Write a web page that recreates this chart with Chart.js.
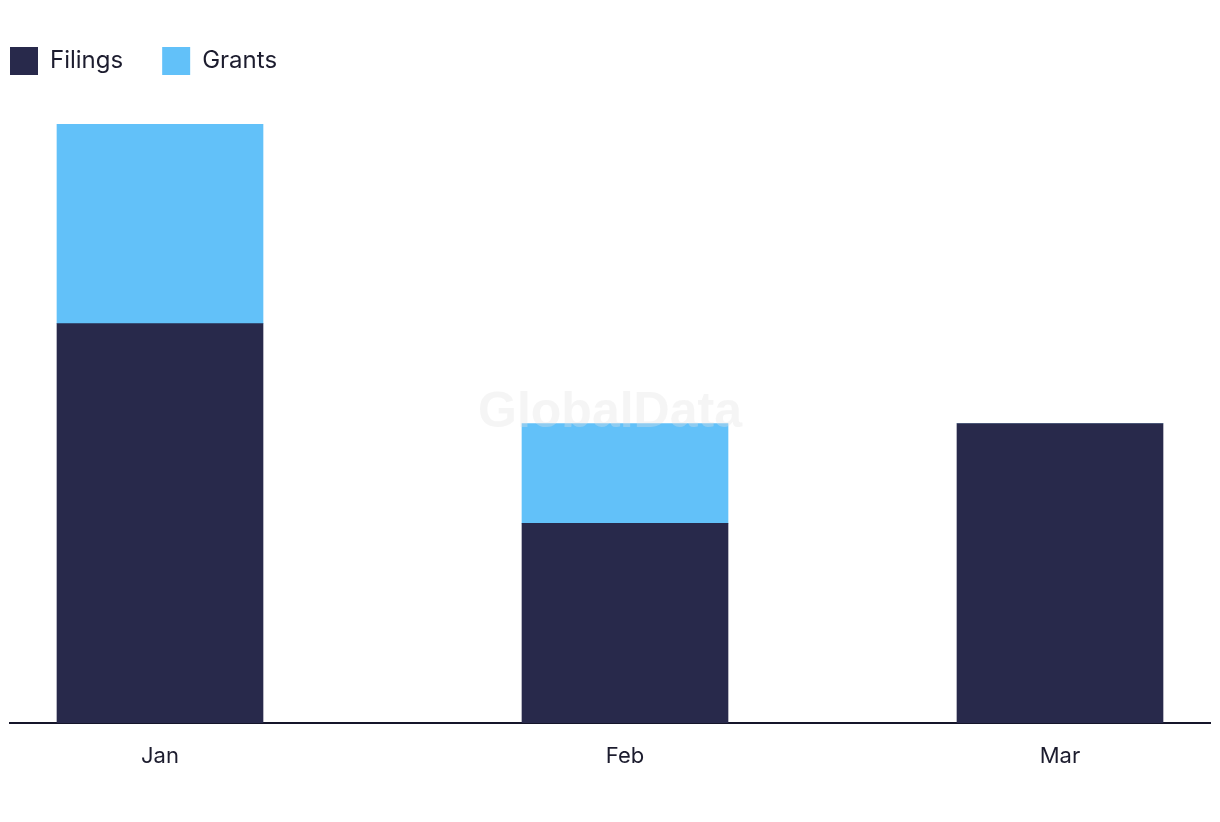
<!DOCTYPE html>
<html>
<head>
<meta charset="utf-8">
<script src="https://cdn.jsdelivr.net/npm/chart.js@4.4.1/dist/chart.umd.min.js"></script>
<style>
  html, body { margin: 0; padding: 0; background: #ffffff; }
  #wrap { width: 1220px; height: 822px; position: relative; }
</style>
</head>
<body>
<div id="wrap"><canvas id="c" width="1220" height="822"></canvas></div>
<script>
// ---- data ----
const months = ['Jan', 'Feb', 'Mar'];
const dayOffsets = [0, 31, 60];       // days since 1 Jan 2024 (month starts)
const filings = [4, 2, 3];
const grants = [2, 1, 0];
const seriesNames = ['Filings', 'Grants'];

const FONT = 'Inter, "Open Sans", sans-serif';
const LEGEND_PAD = 39;

const watermark = {
  id: 'watermark',
  afterDatasetsDraw(chart) {
    const ctx = chart.ctx;
    const a = chart.chartArea;
    ctx.save();
    ctx.font = 'bold 50px "Liberation Sans", Arial, sans-serif';
    ctx.fillStyle = 'rgba(225,225,225,0.35)';
    ctx.textAlign = 'center';
    ctx.textBaseline = 'alphabetic';
    ctx.fillText('GlobalData', (a.left + a.right) / 2, 427);
    ctx.restore();
  }
};

const fixLegend = {
  id: 'fixLegend',
  beforeInit(chart) {
    const lg = chart.legend;
    if (lg) {
      const origFit = lg.fit;
      lg.fit = function () { origFit.call(this); this.height = 124; };
      const origDraw = lg.draw;
      lg.draw = function () {
        const ctx = this.ctx;
        ctx.save();
        ctx.translate(-LEGEND_PAD, 8);
        origDraw.call(this);
        ctx.restore();
      };
    }
  }
};

new Chart(document.getElementById('c'), {
  type: 'bar',
  data: {
    datasets: [
      {
        label: seriesNames[0],
        data: dayOffsets.map((d, i) => ({ x: d, y: filings[i] })),
        backgroundColor: '#28294b',
        barThickness: 206
      },
      {
        label: seriesNames[1],
        data: dayOffsets.map((d, i) => ({ x: d, y: grants[i] })),
        backgroundColor: '#62c1f9',
        barThickness: 206
      }
    ]
  },
  options: {
    responsive: false,
    animation: false,
    layout: { padding: { left: 10, right: 10, top: 0, bottom: 0 } },
    plugins: {
      legend: {
        position: 'top',
        align: 'start',
        labels: {
          boxWidth: 28,
          boxHeight: 28,
          padding: LEGEND_PAD,
          color: '#1c1c2e',
          font: { family: FONT, size: 24 }
        }
      },
      tooltip: { enabled: false },
      title: { display: false }
    },
    scales: {
      x: {
        type: 'linear',
        stacked: true,
        min: -10,
        max: 70,
        offset: false,
        afterBuildTicks(scale) {
          scale.ticks = dayOffsets.map(v => ({ value: v }));
        },
        afterFit(scale) { scale.height = 99; },
        grid: { display: false, drawTicks: false },
        border: { display: true, color: '#15152a', width: 2 },
        ticks: {
          padding: 20,
          color: '#1c1c2e',
          font: { family: FONT, size: 22 },
          maxRotation: 0,
          autoSkip: false,
          callback(value) {
            const i = dayOffsets.indexOf(value);
            return i >= 0 ? months[i] : '';
          }
        }
      },
      y: {
        stacked: true,
        display: false,
        min: 0,
        max: 6
      }
    }
  },
  plugins: [fixLegend, watermark]
});
</script>
</body>
</html>
